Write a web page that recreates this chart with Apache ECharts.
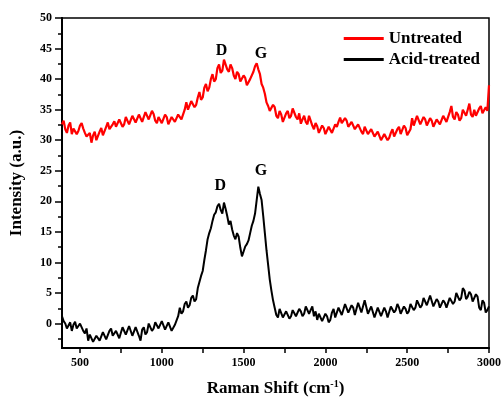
<!DOCTYPE html>
<html><head><meta charset="utf-8">
<script src="https://cdn.jsdelivr.net/npm/echarts@6/dist/echarts.min.js"></script>
<style>html,body{margin:0;padding:0;background:#fff}#c{width:504px;height:402px}</style>
</head><body><div id="c"></div>
<script>
const shift = [
 390,400,410,420,430,440,450,460,470,480,
 490,500,510,520,530,540,550,560,570,580,
 590,600,610,620,630,640,650,660,670,680,
 690,700,710,720,730,740,750,760,770,780,
 790,800,810,820,830,840,850,860,870,880,
 890,900,910,920,930,940,950,960,970,980,
 990,1000,1010,1020,1030,1040,1050,1060,1070,1080,
 1090,1100,1110,1120,1130,1140,1150,1160,1170,1180,
 1190,1200,1210,1220,1230,1240,1250,1260,1270,1280,
 1290,1300,1310,1320,1330,1340,1350,1360,1370,1380,
 1390,1400,1410,1420,1430,1440,1450,1460,1470,1480,
 1490,1500,1510,1520,1530,1540,1550,1560,1570,1580,
 1590,1600,1610,1620,1630,1640,1650,1660,1670,1680,
 1690,1700,1710,1720,1730,1740,1750,1760,1770,1780,
 1790,1800,1810,1820,1830,1840,1850,1860,1870,1880,
 1890,1900,1910,1920,1930,1940,1950,1960,1970,1980,
 1990,2000,2010,2020,2030,2040,2050,2060,2070,2080,
 2090,2100,2110,2120,2130,2140,2150,2160,2170,2180,
 2190,2200,2210,2220,2230,2240,2250,2260,2270,2280,
 2290,2300,2310,2320,2330,2340,2350,2360,2370,2380,
 2390,2400,2410,2420,2430,2440,2450,2460,2470,2480,
 2490,2500,2510,2520,2530,2540,2550,2560,2570,2580,
 2590,2600,2610,2620,2630,2640,2650,2660,2670,2680,
 2690,2700,2710,2720,2730,2740,2750,2760,2770,2780,
 2790,2800,2810,2820,2830,2840,2850,2860,2870,2880,
 2890,2900,2910,2920,2930,2940,2950,2960,2970,2980,
 2990,3000];
const untreated = [
 32.6,33.2,31.8,31.2,32.4,32.9,31.0,31.9,32.2,31.0,31.5,32.4,32.8,31.9,31.2,30.6,30.4,31.2,29.6,30.8,
 31.4,30.0,30.2,31.4,32.0,30.8,31.1,32.2,32.9,31.8,31.6,32.6,33.1,32.2,32.0,33.4,33.4,32.2,32.6,33.8,
 33.6,32.6,32.8,34.0,33.9,32.9,33.0,34.2,34.4,33.0,33.2,34.6,34.9,33.4,33.6,34.8,34.3,33.2,32.8,33.8,
 34.0,32.8,33.0,34.2,33.8,32.6,32.9,33.8,34.1,33.0,33.2,34.2,34.4,33.4,33.6,35.0,36.2,35.0,35.1,36.4,
 36.6,35.4,35.8,37.0,37.9,36.6,37.0,38.6,39.2,38.0,38.6,40.0,40.8,39.6,40.0,41.8,42.4,41.0,41.4,43.2,
 42.9,41.6,41.2,42.4,41.8,40.6,40.0,41.2,40.8,39.6,39.4,40.6,40.2,39.0,39.1,40.0,40.3,41.2,42.1,42.6,
 41.6,40.8,39.2,38.6,37.6,36.2,35.6,34.8,34.6,35.8,35.4,34.0,33.6,34.8,34.2,33.0,33.2,34.4,34.8,33.6,
 34.0,35.2,35.0,33.8,33.4,34.4,32.7,33.4,34.0,33.0,32.6,34.0,33.8,32.4,31.8,32.8,32.3,31.2,31.4,32.4,
 32.0,31.0,31.2,32.2,32.3,31.2,31.5,32.6,32.2,33.0,33.7,32.8,32.6,33.6,33.2,32.2,32.0,33.0,32.7,31.8,
 31.6,32.6,32.4,31.4,31.0,32.2,32.1,31.0,30.8,31.8,31.6,30.6,30.6,31.4,31.2,30.0,30.2,31.0,30.9,30.0,
 30.4,31.2,31.8,30.6,30.8,31.8,32.2,31.0,31.2,32.4,32.0,30.8,30.6,31.8,33.6,32.4,32.6,34.0,33.8,32.6,
 32.8,33.8,33.4,32.4,32.6,33.6,33.2,32.2,32.5,33.4,33.6,32.6,32.8,34.0,34.0,33.0,33.2,34.6,35.6,33.8,
 33.4,34.6,34.2,33.2,33.6,35.0,34.8,34.0,35.0,36.0,34.2,33.8,35.0,34.0,34.0,35.2,35.6,34.4,34.2,35.4,
 34.8,39.0];
const acidTreated = [
 1.2,0.4,0.0,-0.8,-0.6,0.2,-1.2,-0.2,0.3,-0.8,-1.0,0.0,-0.2,-1.2,-1.6,-0.8,-2.8,-1.8,-1.8,-3.0,
 -3.0,-2.0,-2.0,-2.8,-2.6,-1.4,-1.6,-2.6,-2.4,-1.2,-0.8,-2.0,-2.2,-1.2,-1.0,-2.4,-2.6,-0.6,-0.4,-1.8,
 -1.8,-0.4,-0.6,-2.0,-2.2,-0.6,-0.5,-2.0,-2.8,-1.0,-0.6,-1.8,-1.4,0.0,-0.2,-1.2,-0.8,0.2,0.4,-0.8,
 -0.6,0.4,0.2,-1.0,-0.8,0.2,0.0,-1.2,-1.0,-0.2,-0.4,1.2,2.6,1.6,2.0,3.2,3.6,2.6,3.0,4.2,
 4.6,3.6,4.0,5.8,6.8,7.8,8.6,10.4,12.0,13.8,14.8,15.6,16.8,17.8,18.2,19.2,19.6,18.6,18.0,19.8,
 18.8,17.6,16.2,16.8,15.4,14.4,13.8,14.8,14.2,12.4,11.0,11.8,12.6,13.0,13.6,14.8,16.0,16.8,18.0,20.2,
 22.4,21.2,20.2,17.6,14.8,12.0,9.6,7.2,5.4,3.8,2.6,1.4,1.0,2.4,2.2,1.0,0.8,2.0,1.8,0.8,
 1.2,2.2,2.4,1.2,1.4,2.4,2.0,1.2,1.6,2.8,2.6,1.6,1.8,2.8,1.2,2.0,0.6,1.6,1.4,0.4,
 0.2,1.6,1.2,0.2,0.6,1.8,2.4,1.0,1.2,2.6,2.8,1.4,1.6,3.2,3.0,1.8,2.0,3.0,2.6,1.4,
 1.6,3.4,3.2,1.8,2.0,3.8,3.6,1.6,1.8,2.8,2.6,1.0,0.8,2.6,2.4,1.2,1.4,2.6,2.0,1.0,
 1.2,2.8,3.0,1.8,2.2,3.2,2.6,1.6,1.8,2.8,2.4,1.6,2.0,3.2,3.0,2.2,2.6,3.8,3.6,2.6,
 3.0,4.2,4.0,3.0,3.2,4.6,4.4,2.8,3.0,4.0,3.6,2.6,2.8,3.8,3.4,2.6,2.8,4.2,4.0,3.2,
 3.6,5.0,4.8,3.8,4.2,5.8,5.4,4.0,4.4,5.2,4.8,3.6,3.8,4.8,4.4,2.6,2.2,3.8,3.4,1.8,
 2.2,2.8];
const xTickLabels = [500,1000,1500,2000,2500,3000];
const xMinorTicks = [750,1250,1750,2250,2750];
const yTickLabels = [0,5,10,15,20,25,30,35,40,45,50];
const yMinorTicks = [-2.5,2.5,7.5,12.5,17.5,22.5,27.5,32.5,37.5,42.5,47.5];
const peakLabels = [
  {name:'D', coord:[1365,44.7]}, {name:'G', coord:[1606,44.1]}
];
const peakLabels2 = [
  {name:'D', coord:[1358,22.5]}, {name:'G', coord:[1606,25.0]}
];

const font = 'Liberation Serif';
const X0 = 390, X1 = 3000, Y0 = -4, Y1 = 50;
function pairs(v){ return shift.map((x,i)=>[x,v[i]]); }
const baseAxis = {
  axisLine:{show:true,onZero:false,lineStyle:{color:'#000',width:2}},
  splitLine:{show:false}
};
const chart = echarts.init(document.getElementById('c'));
chart.setOption({
  animation:false,
  backgroundColor:'#fff',
  grid:{left:58,right:13,top:18,bottom:45,show:true,borderColor:'#000',borderWidth:1.5},
  legend:{
    orient:'vertical', right:19, top:25, itemWidth:40, itemHeight:3, itemGap:4,
    icon:'rect',
    textStyle:{fontFamily:font,fontWeight:'bold',fontSize:17,color:'#000'},
    data:['Untreated','Acid-treated']
  },
  xAxis:[
    Object.assign({type:'value',min:X0,max:X1,
      name:'Raman Shift (cm{sup|-1})',nameLocation:'middle',nameGap:31,
      nameTextStyle:{fontFamily:font,fontWeight:'bold',fontSize:17,color:'#000',
        rich:{sup:{fontFamily:font,fontWeight:'bold',fontSize:10,verticalAlign:'top',padding:[0,0,9,0]}}},
      axisTick:{show:true,inside:false,length:5,lineStyle:{color:'#000',width:1.5},customValues:xTickLabels.concat(xMinorTicks)},
      axisLabel:{customValues:xTickLabels,margin:9,fontFamily:font,fontWeight:'bold',fontSize:12,color:'#000',
        formatter:function(v){return String(v);}}
    },baseAxis)
  ],
  yAxis:[
    Object.assign({type:'value',min:Y0,max:Y1,
      name:'Intensity (a.u.)',nameLocation:'middle',nameGap:37,
      nameTextStyle:{fontFamily:font,fontWeight:'bold',fontSize:17,color:'#000'},
      axisTick:{show:true,inside:false,length:7,lineStyle:{color:'#000',width:1.5},customValues:yTickLabels},
      axisLabel:{customValues:yTickLabels,margin:10,fontFamily:font,fontWeight:'bold',fontSize:12,color:'#000'}
    },baseAxis),
    Object.assign({type:'value',min:Y0,max:Y1,position:'left',
      axisTick:{show:true,inside:false,length:4,lineStyle:{color:'#000',width:1.5},customValues:yMinorTicks},
      axisLabel:{show:false}
    },baseAxis)
  ],
  series:[
    {name:'Untreated',type:'line',data:pairs(untreated),showSymbol:false,symbol:'none',
     lineStyle:{color:'#ff0000',width:2.2},itemStyle:{color:'#ff0000'},
     markPoint:{symbol:'circle',symbolSize:0,silent:true,
       label:{show:true,formatter:'{b}',fontFamily:font,fontWeight:'bold',fontSize:16,color:'#000'},
       data:peakLabels}},
    {name:'Acid-treated',type:'line',data:pairs(acidTreated),showSymbol:false,symbol:'none',
     lineStyle:{color:'#000',width:2},itemStyle:{color:'#000'},
     markPoint:{symbol:'circle',symbolSize:0,silent:true,
       label:{show:true,formatter:'{b}',fontFamily:font,fontWeight:'bold',fontSize:16,color:'#000'},
       data:peakLabels2}}
  ]
});
</script></body></html>
